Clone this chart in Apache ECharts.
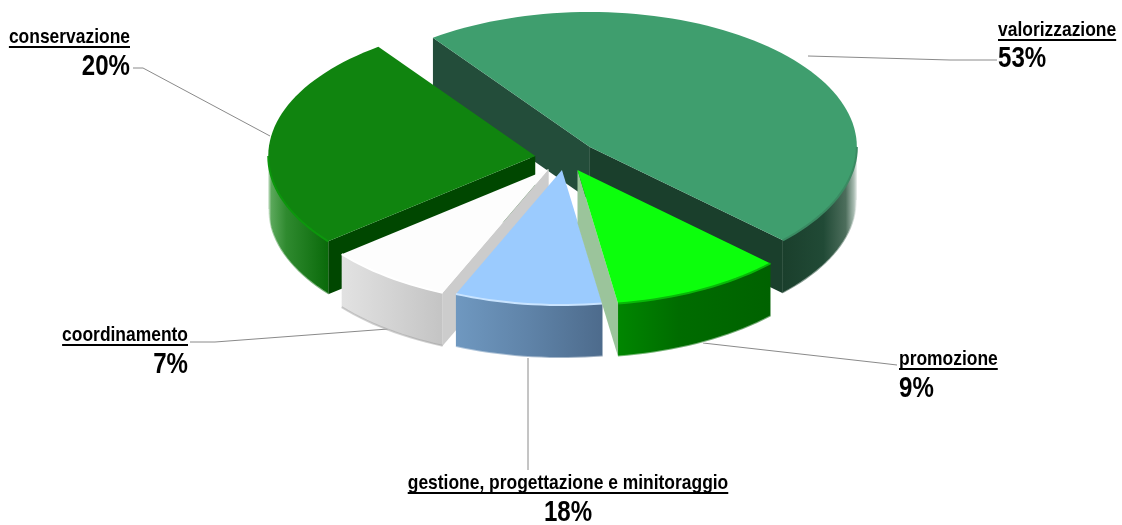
<!DOCTYPE html>
<html>

<head>
  <meta charset="utf-8">
  <title>Ripartizione</title>
  <script src="https://cdn.jsdelivr.net/npm/echarts@6/dist/echarts.min.js"></script>
  <style>
    html, body { margin: 0; padding: 0; background: #fff; }
    #container { width: 1122px; height: 525px; }
  </style>
</head>

<body>
  <div id="container"></div>
</body>

<script>
  const names = ['valorizzazione', 'promozione', 'gestione, progettazione e minitoraggio', 'coordinamento', 'conservazione'];
  // printed percentages
  const percentLabels = [53, 9, 18, 7, 20];
  // slice sizes as drawn in the picture (they do not follow the printed numbers)
  const drawnShares = [47, 10.4, 8.9, 7.6, 25.8];

  const total = drawnShares.reduce(function (a, b) { return a + b; }, 0);
  const startDeg = -36;
  const cx = 565, cy = 158, rx = 267, ry = 135, depth = 53;
  const explode = [33, 27, 24, 27, 30];
  const paintOrder = [0, 4, 3, 2, 1].reduce(function (acc, sliceIdx, pos) { acc[sliceIdx] = pos; return acc; }, {});

  const grad = function (stops) {
    return new echarts.graphic.LinearGradient(0, 0, 1, 0, stops.map(function (c, i) {
      return { offset: c[0], color: c[1] };
    }));
  };

  const looks = [
    { top: '#3f9e6e', wallA: '#234d3a', wallB: '#1a3f2c', edge: '#3a8a62', soft: '#ffffff',
      rim: grad([[0, '#1a3f2c'], [0.55, '#214a36'], [0.85, '#4d6e5c'], [0.96, '#a9bcb2'], [1, '#e4eae7']]) },
    { top: '#0cff0c', wallA: '#9bc49b', wallB: '#9bc49b', edge: '#08b808', soft: '#ffffff',
      rim: grad([[0, '#008600'], [0.4, '#006c00'], [1, '#006200']]) },
    { top: '#9bcbfe', wallA: '#8fb0d0', wallB: '#8fb0d0', edge: '#c9e4ff', soft: '#ffffff',
      rim: grad([[0, '#6f98c0'], [0.5, '#5f83a8'], [1, '#4d6b8c']]) },
    { top: '#fdfdfd', wallA: '#cccccc', wallB: '#dddddd', edge: '#ffffff', soft: '#999999',
      rim: grad([[0, '#e2e2e2'], [1, '#c4c4c4']]) },
    { top: '#10840f', wallA: '#004700', wallB: '#004700', edge: '#0c960c', soft: '#ffffff',
      rim: grad([[0, '#cfe4cf'], [0.05, '#5ba85b'], [0.3, '#2f8a2f'], [1, '#0a6a0a']]) }
  ];

  const sliceAngles = function (idx) {
    let from = startDeg;
    for (let i = 0; i < idx; i++) from += drawnShares[i] / total * 360;
    return [from, from + drawnShares[idx] / total * 360];
  };

  const onRim = function (apex, deg) {
    const t = deg * Math.PI / 180;
    return [apex[0] + rx * Math.sin(t), apex[1] - ry * Math.cos(t)];
  };

  const arcPoints = function (apex, from, to) {
    const pts = [];
    const steps = Math.max(2, Math.ceil((to - from) / 2));
    for (let i = 0; i <= steps; i++) pts.push(onRim(apex, from + (to - from) * i / steps));
    return pts;
  };

  const down = function (p) { return [p[0], p[1] + depth]; };

  // a cut face shows only if its normal points towards the viewer
  const facesViewer = function (normalDeg) { return Math.cos(normalDeg * Math.PI / 180) < 0; };

  const renderSlice = function (params, api) {
    const idx = params.dataIndex;
    const angles = sliceAngles(idx);
    const mid = (angles[0] + angles[1]) / 2 * Math.PI / 180;
    const apex = [cx + explode[idx] * Math.sin(mid), cy - explode[idx] * Math.cos(mid) * ry / rx];
    const look = looks[idx];
    const base = paintOrder[idx] * 10;
    const children = [];
    const poly = function (points, fill, n) {
      children.push({ type: 'polygon', z2: base + n, shape: { points: points }, style: { fill: fill, stroke: null } });
    };

    const a = onRim(apex, angles[0]);
    const b = onRim(apex, angles[1]);
    if (facesViewer(angles[0] - 90)) poly([apex, a, down(a), down(apex)], look.wallA, 0);
    if (facesViewer(angles[1] + 90)) poly([apex, b, down(b), down(apex)], look.wallB, 1);

    // outer band only on the half that faces the viewer
    const frontFrom = Math.max(angles[0], 90);
    const frontTo = Math.min(angles[1], 270);
    if (frontTo > frontFrom) {
      const band = arcPoints(apex, frontFrom, frontTo);
      poly(band.concat(band.slice().reverse().map(down)), look.rim, 2);
      children.push({
        type: 'polyline', z2: base + 4, shape: { points: band },
        style: { stroke: look.edge, lineWidth: 2, fill: null }
      });
      // soft lower edge of the band
      children.push({
        type: 'polyline', z2: base + 4, shape: { points: band.map(down) },
        style: { stroke: look.soft, lineWidth: 2, opacity: 0.45, fill: null }
      });
    }

    poly([apex].concat(arcPoints(apex, angles[0], angles[1])), look.top, 3);
    return { type: 'group', children: children };
  };

  // where each text block and its leader line sit on the page
  const labelLayout = [
    { x: 998, nameY: 30, pctY: 59, align: 'left', leader: [[808, 56], [950, 60], [997, 60]] },
    { x: 899, nameY: 359, pctY: 389, align: 'left', leader: [[703, 343], [880, 363], [897, 365]] },
    { x: 568, nameY: 483, pctY: 513, align: 'center', leader: [[528, 358], [528, 470]] },
    { x: 188, nameY: 335, pctY: 365, align: 'right', leader: [[190, 342], [215, 342], [388, 329]] },
    { x: 130, nameY: 37, pctY: 67, align: 'right', leader: [[133, 68], [143, 68], [270, 136]] }
  ];

  // no narrow face installed, so the regular one is squeezed
  const fontFamily = "'Liberation Sans', sans-serif";
  const squeeze = 0.83;
  const measure = document.createElement('canvas').getContext('2d');

  const labelGraphics = [];
  names.forEach(function (name, i) {
    const pos = labelLayout[i];
    measure.font = 'bold 21px ' + fontFamily;
    const w = measure.measureText(name).width * squeeze;
    const left = pos.align === 'left' ? pos.x : pos.align === 'right' ? pos.x - w : pos.x - w / 2;
    labelGraphics.push({
      type: 'text', x: pos.x, y: pos.nameY, scaleX: squeeze,
      style: { text: name, fontFamily: fontFamily, fontWeight: 'bold', fontSize: 21, fill: '#000', align: pos.align, verticalAlign: 'middle' }
    });
    labelGraphics.push({
      type: 'rect', shape: { x: left, y: pos.nameY + 9, width: w, height: 2 },
      style: { fill: '#000' }
    });
    labelGraphics.push({
      type: 'text', x: pos.x, y: pos.pctY, scaleX: squeeze,
      style: { text: percentLabels[i] + '%', fontFamily: fontFamily, fontWeight: 'bold', fontSize: 29, fill: '#000', align: pos.align, verticalAlign: 'middle' }
    });
    labelGraphics.push({
      type: 'polyline', shape: { points: pos.leader },
      style: { stroke: '#8a8a8a', lineWidth: 1, fill: null }
    });
  });

  const container = echarts.init(document.getElementById('container'), null, { renderer: 'canvas' });
  container.setOption({
    animation: false,
    backgroundColor: '#fff',
    graphic: labelGraphics,
    series: [{
      type: 'custom',
      coordinateSystem: 'none',
      renderItem: renderSlice,
      data: drawnShares.map(function (v, i) { return { name: names[i], value: [v, percentLabels[i]] }; })
    }]
  });
</script>

</html>
